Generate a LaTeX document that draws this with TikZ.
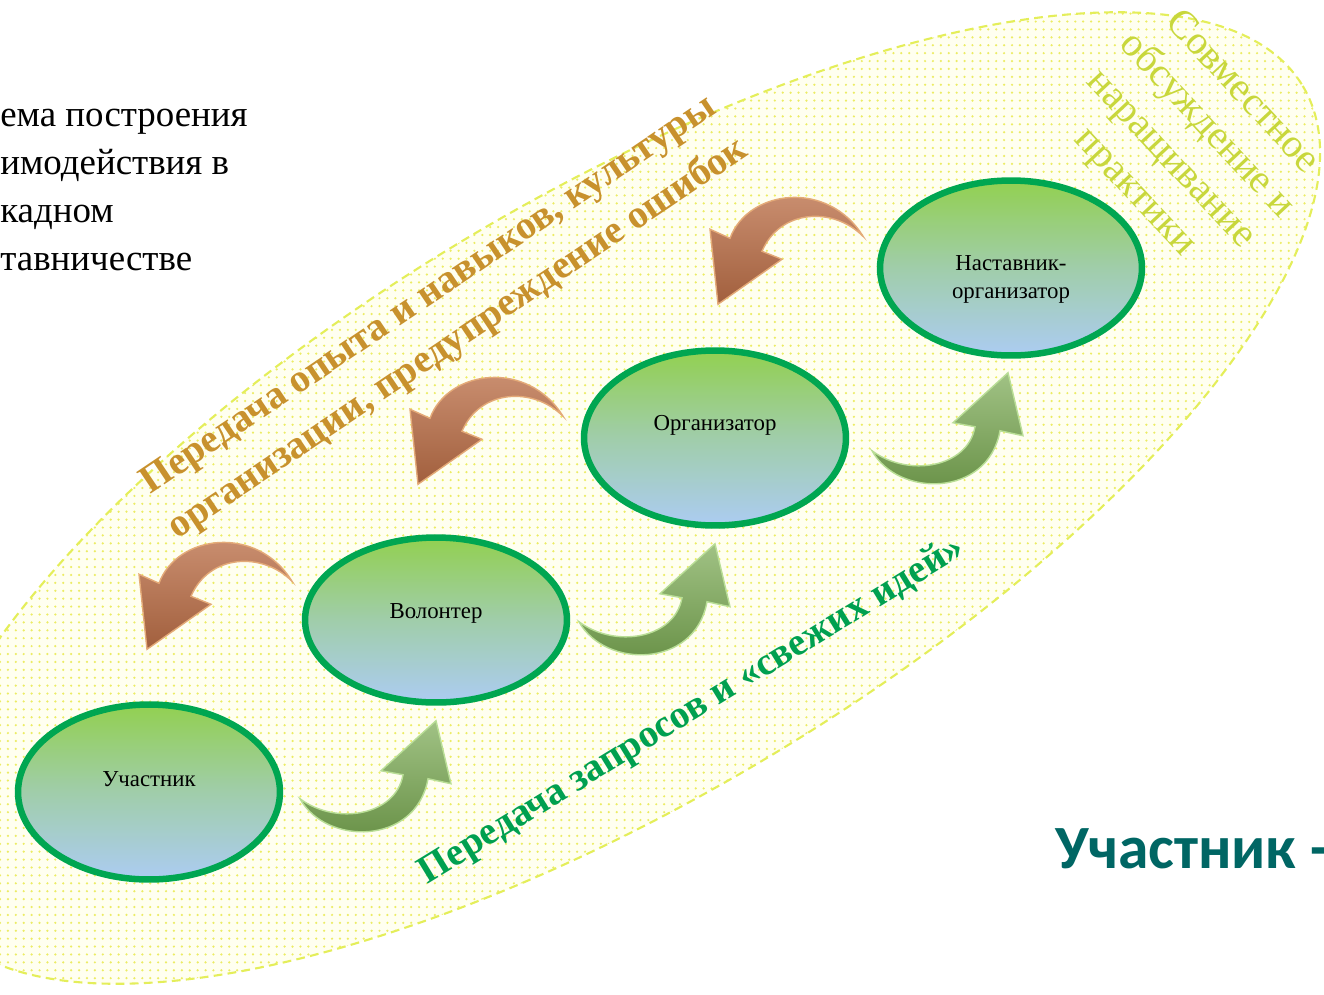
\documentclass[tikz,border=0pt]{standalone}
\usepackage{fontspec}
\setmainfont{Liberation Serif}
\newfontfamily\calibri{Carlito}
\usetikzlibrary{shapes.geometric,patterns.meta,calc,positioning}

\definecolor{rolegreen}{RGB}{0,166,81}
\definecolor{topgreen}{RGB}{146,208,80}
\definecolor{midgreen}{RGB}{160,205,170}
\definecolor{botblue}{RGB}{172,204,242}
\definecolor{cloudline}{RGB}{228,238,90}
\definecolor{clouddot}{RGB}{236,236,100}
\definecolor{cloudfill}{RGB}{255,255,240}
\definecolor{goldtext}{RGB}{200,145,45}
\definecolor{greentext}{RGB}{0,160,80}
\definecolor{limetext}{RGB}{200,215,60}
\definecolor{tealtext}{RGB}{0,102,100}
\definecolor{brownfill}{RGB}{190,112,72}
\definecolor{brownedge}{RGB}{228,170,120}
\definecolor{leaffill}{RGB}{120,168,80}
\definecolor{leafedge}{RGB}{185,222,150}

\tikzset{
  role/.style={ellipse, draw=rolegreen, line width=0.13cm, minimum width=5.24cm, minimum height=3.5cm,
    top color=topgreen, bottom color=botblue, middle color=midgreen,
    font=\fontsize{13}{16.4}\selectfont, inner sep=0pt},
  back arrow/.pic={
    \draw[brownedge, line width=0.8pt, top color=brownfill!75!white, bottom color=brownfill!85!black]
      (0,0) -- (-8,-75) -- (12,-66) .. controls (30,-115) and (110,-125) .. (145,-68)
      .. controls (115,-98) and (62,-95) .. (44,-53) -- (64,-45) -- cycle;
  },
  fwd arrow/.pic={
    \draw[leafedge, line width=0.8pt, top color=leaffill!70!white, bottom color=leaffill!85!black]
      (0,0) -- (15,63) -- (-8,58) .. controls (-20,125) and (-110,125) .. (-136,78)
      .. controls (-100,105) and (-40,95) .. (-33,54) -- (-55,50) -- cycle;
  }
}

\begin{document}
\begin{tikzpicture}[x=0.02cm, y=-0.02cm]
  \useasboundingbox (0,0) rectangle (1324,994);
  \clip (0,0) rectangle (1324,994);

  % dotted cloud
  \draw[cloudline, line width=1.2pt, dash pattern=on 5pt off 3pt, preaction={fill=cloudfill},
        pattern={Dots[distance=4.5pt, radius=0.7pt]}, pattern color=clouddot, shift={(617,498)}, rotate=31]
    (0,0) ellipse [x radius=800, y radius=300];

  % title (cut at the left)
  \node[anchor=north west, inner sep=0pt, align=left, font=\fontsize{21}{27.2}\selectfont] (title) at (0,109)
    {ема построения\\имодействия в\\кадном\\тавничестве};

  % roles
  \node[role] (part) at (149,792) {\raisebox{0.12cm}[0pt][0pt]{Участник}};
  \node[role, minimum height=3.3cm] (vol) at (436,620) {\raisebox{0.04cm}[0pt][0pt]{Волонтер}};
  \node[role] (org) at (715,438) {\raisebox{0.16cm}[0pt][0pt]{Организатор}};
  \node[role] (ment) at (1011,268) {\raisebox{-0.32cm}[0pt][0pt]{\begin{tabular}{@{}c@{}}Наставник-\\организатор\end{tabular}}};

  % arrows back down the chain
  \pic at ($(part.north)+(-2,-52)$) {back arrow};
  \pic at ($(vol.north)+(-18,-50)$) {back arrow};
  \pic at ($(org.north)+(3,-43)$) {back arrow};

  % arrows up the chain
  \pic at ($(vol.south)+(0,15)$) {fwd arrow};
  \pic at ($(org.south)+(0,15)$) {fwd arrow};
  \pic at ($(ment.south)+(-3,14)$) {fwd arrow};

  % rotated captions
  \node[rotate=34, align=center, inner sep=0pt, text=goldtext, font=\bfseries\fontsize{22.5}{30}\selectfont] (share) at (444,318)
    {Передача опыта и навыков, культуры\\организации, предупреждение ошибок};
  \node[rotate=31.5, inner sep=0pt, text=greentext, font=\bfseries\fontsize{22.3}{26}\selectfont] (ideas) at (692,711)
    {Передача запросов и «свежих идей»};
  \node[rotate=-47, align=center, inner sep=0pt, text=limetext, font=\fontsize{23}{27.8}\selectfont] (joint) at (1188,143)
    {Совместное\\обсуждение и\\наращивание\\практики};

  \node[anchor=base west, inner sep=0pt, text=tealtext, font=\calibri\bfseries\fontsize{35}{40}\selectfont] (lead) at (1055,868)
    {Участник -};
\end{tikzpicture}
\end{document}
